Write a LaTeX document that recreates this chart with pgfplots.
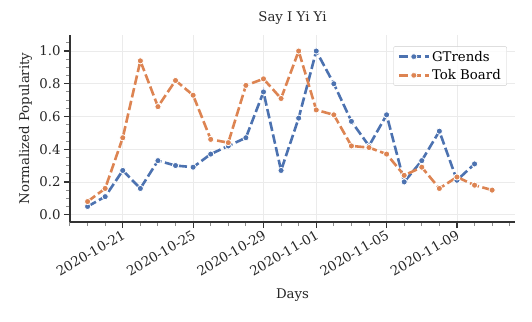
\documentclass[border=0pt]{standalone}
\usepackage{fontspec}
\setmainfont{DejaVu Serif}
\usepackage{pgfplots}
\pgfplotsset{compat=1.18}
\usetikzlibrary{calc}

\definecolor{gblue}{HTML}{4C72B0}
\definecolor{torange}{HTML}{DD8452}
\definecolor{spine}{HTML}{333333}
\definecolor{gridc}{HTML}{EBEBEB}
\newcommand{\fs}{\fontsize{13.3bp}{15bp}\selectfont}

\begin{document}
\begin{tikzpicture}
\begin{axis}[
  scale only axis,
  width=445bp, height=187bp,
  xmin=-3, xmax=22.3,
  ymin=-0.045, ymax=1.098,
  axis x line=bottom, axis y line=left,
  axis line style={-, spine, line width=1.2bp},
  xtick={0,4,8,11,15,19},
  xticklabels={2020-10-21,2020-10-25,2020-10-29,2020-11-01,2020-11-05,2020-11-09},
  minor xtick={-3,-2,...,22},
  ytick={0,0.2,0.4,0.6,0.8,1.0},
  minor ytick={0.05,0.1,0.15,0.25,0.3,0.35,0.45,0.5,0.55,0.65,0.7,0.75,0.85,0.9,0.95,1.05},
  tick align=outside,
  major tick length=6bp, minor tick length=4bp,
  every major tick/.append style={spine, line width=1.2bp},
  every minor tick/.append style={black!45, line width=1bp},
  xmajorgrids, ymajorgrids,
  major grid style={gridc, line width=0.8bp},
  tick label style={font=\fs, color=black!85},
  xticklabel style={rotate=30, anchor=north east, yshift=3bp, xshift=1.5bp},
  yticklabel style={/pgf/number format/.cd, fixed, fixed zerofill, precision=1},
  /pgf/number format/assume math mode=true,
  xlabel={Days}, ylabel={Normalized Popularity},
  label style={font=\fs, color=black!85},
  xlabel style={at={(axis description cs:0.5,-0.39)}, anchor=center},
  ylabel style={at={(axis description cs:-0.1,0.5)}, anchor=center},
  title={Say I Yi Yi},
  title style={font=\fs, color=black!85, at={(axis description cs:0.5,1.06)}, anchor=center},
  legend style={font=\fs, at={(axis description cs:0.982,0.94)}, anchor=north east,
    draw=black!20, rounded corners=2bp, fill=white, fill opacity=0.8, text opacity=1,
    row sep=3bp, inner xsep=4bp, inner ysep=2.5bp},
  legend cell align=left,
  legend image code/.code={\draw[#1, mark repeat=2, mark phase=2] plot coordinates {(0bp,0bp) (15bp,0bp) (30bp,0bp)};},
]
\addplot[gblue, line width=2.6bp, dash pattern=on 9.5bp off 3.5bp,
  mark=*, mark size=3.1bp, mark options={solid, fill=gblue, draw=white, line width=0.8bp}]
coordinates {
(-2,0.05) (-1,0.11) (0,0.27) (1,0.16) (2,0.33) (3,0.30) (4,0.29) (5,0.37)
(6,0.42) (7,0.47) (8,0.75) (9,0.27) (10,0.59) (11,1.00) (12,0.80) (13,0.57)
(14,0.42) (15,0.61) (16,0.20) (17,0.33) (18,0.51) (19,0.21) (20,0.31)
};
\addlegendentry{GTrends}
\addplot[torange, line width=2.6bp, dash pattern=on 9.5bp off 3.5bp,
  mark=*, mark size=3.1bp, mark options={solid, fill=torange, draw=white, line width=0.8bp}]
coordinates {
(-2,0.08) (-1,0.16) (0,0.47) (1,0.94) (2,0.66) (3,0.82) (4,0.73) (5,0.46)
(6,0.44) (7,0.79) (8,0.83) (9,0.71) (10,1.00) (11,0.64) (12,0.61) (13,0.42)
(14,0.41) (15,0.37) (16,0.24) (17,0.29) (18,0.16) (19,0.23) (20,0.18) (21,0.15)
};
\addlegendentry{Tok Board}
\end{axis}
\pgfresetboundingbox
\path[use as bounding box] ($(current axis.south west)+(-70bp,-100bp)$) rectangle ($(current axis.north east)+(17bp,35bp)$);
\end{tikzpicture}
\end{document}
